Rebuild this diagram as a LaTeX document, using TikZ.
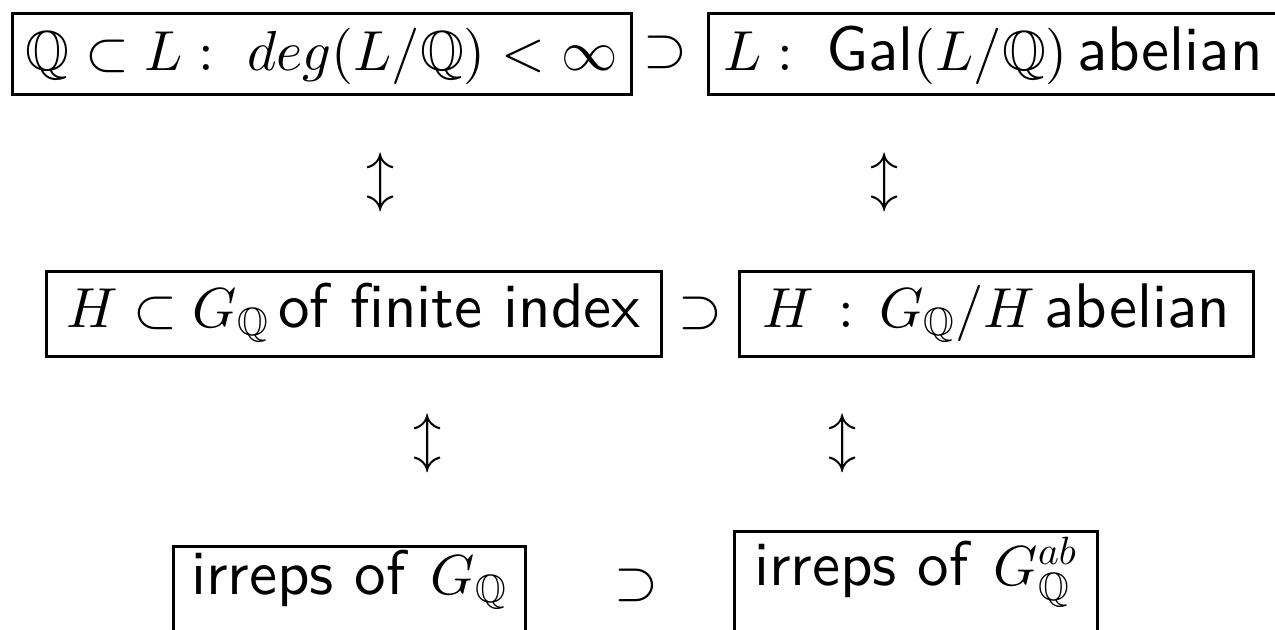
\documentclass[tikz,border=0pt]{standalone}
\usepackage{amssymb}
\DeclareFontFamily{U}{msb}{}
\DeclareFontShape{U}{msb}{m}{n}{<->msbm10}{}
\DeclareFontShape{OML}{cmm}{m}{it}{<->cmmi10}{}
\DeclareFontShape{OMS}{cmsy}{m}{n}{<->cmsy10}{}
\DeclareFontShape{OT1}{cmr}{m}{n}{<->cmr10}{}
\DeclareFontShape{OMX}{cmex}{m}{n}{<->cmex10}{}
\usepackage[no-math]{fontspec}
\setsansfont{lmsans10-regular}[Extension=.otf, Ligatures=NoCommon]
\newcommand{\tsf}[1]{{\fontsize{31.5}{36}\selectfont\sffamily #1}}
\tikzset{
  box/.style={draw, line width=1.5pt, inner xsep=0pt, inner ysep=0pt, anchor=base},
  sym/.style={inner sep=0pt}
}
\begin{document}
\begin{tikzpicture}[x=0.5pt,y=-0.5pt,font=\fontsize{28.2}{33}\selectfont]
\clip (0,0) rectangle (1275,629);
% row 1
\node[box, minimum width=309.5pt, text height=28.25pt, text depth=12pt] (fin) at (321.5,70)
  {$\mathbb{Q}\subset L:\ deg(L/\mathbb{Q})<\infty$};
\node[box, minimum width=284.75pt, text height=28.25pt, text depth=12pt] (ab) at (993.25,70)
  {$L:\;$ \tsf{Gal}$(L/\mathbb{Q})$\,\tsf{abelian}};
\node[sym] (s1) at (665,52) {$\supset$};
% arrows row 1
\node[sym] (a1) at (381,182) {$\updownarrow$};
\node[sym] (a2) at (885,182) {$\updownarrow$};
% row 2
\node[box, minimum width=307.5pt, text height=28pt, text depth=14.5pt] (fi) at (353.5,327)
  {$H\subset G_{\mathbb{Q}}$\,\tsf{of finite index}};
\node[box, minimum width=257pt, text height=28pt, text depth=14.5pt] (hab) at (996,327)
  {$H \,\mathrel{:}\, G_{\mathbb{Q}}/H$\,\tsf{abelian}};
\node[sym] (s2) at (700,313) {$\supset$};
% arrows row 2
\node[sym] (a3) at (428,443) {$\updownarrow$};
\node[sym] (a4) at (843,443) {$\updownarrow$};
% row 3
\node[box, minimum width=176pt, text height=24pt, text depth=23pt] (ir) at (349,594)
  {\tsf{irreps of}\;\,$G_{\mathbb{Q}}$};
\node[box, minimum width=181.5pt, text height=27pt, text depth=27.5pt] (irab) at (915.5,585)
  {\tsf{irreps of}\;\,$G_{\mathbb{Q}}^{ab}$};
\node[sym] (s3) at (636,585) {$\supset$};
\end{tikzpicture}
\end{document}
